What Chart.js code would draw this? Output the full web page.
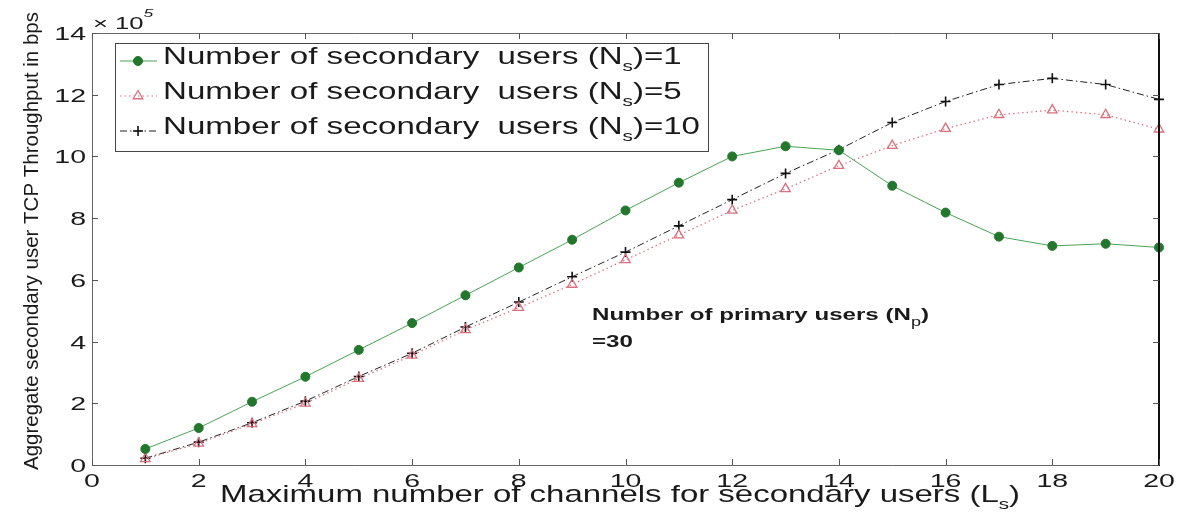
<!DOCTYPE html>
<html>
<head>
<meta charset="utf-8">
<script src="https://cdn.jsdelivr.net/npm/chart.js@4.4.1/dist/chart.umd.min.js"></script>
<style>
  html, body { margin: 0; padding: 0; background: #fff; }
  #wrap { width: 1182px; height: 514px; }
</style>
</head>
<body>
<div id="wrap"><canvas id="tcpChart"></canvas></div>
<script>
// values in units of 1e5 bps
var channels = [1, 2, 3, 4, 5, 6, 7, 8, 9, 10, 11, 12, 13, 14, 15, 16, 17, 18, 19, 20];
var ns1 = [0.52, 1.2, 2.05, 2.86, 3.73, 4.6, 5.5, 6.4, 7.3, 8.25, 9.15, 10.0, 10.33, 10.2, 9.05, 8.18, 7.4, 7.1, 7.17, 7.05];
var ns5 = [0.2, 0.7, 1.33, 2.0, 2.8, 3.55, 4.38, 5.1, 5.85, 6.65, 7.45, 8.25, 8.95, 9.7, 10.35, 10.9, 11.35, 11.5, 11.35, 10.88];
var ns10 = [0.22, 0.74, 1.37, 2.07, 2.87, 3.62, 4.47, 5.28, 6.1, 6.9, 7.75, 8.6, 9.45, 10.22, 11.1, 11.78, 12.33, 12.53, 12.33, 11.85];
var xTicks = [0, 2, 4, 6, 8, 10, 12, 14, 16, 18, 20];
var yTicks = [0, 2, 4, 6, 8, 10, 12, 14];
var seriesNames = ['1', '5', '10'];

var TXT = '#1a1a1a';
var GREEN_LINE = '#4aa354';
var GREEN_MARK = '#22772c';
var PINK = '#d9707e';

function pts(ys) {
    return channels.map(function(c, i) { return { x: c, y: ys[i] }; });
}

// draws a run of text pieces (with sub/superscripts), stretched horizontally by sx
function drawRich(ctx, parts, x, y, sx, align) {
    ctx.save();
    var total = 0;
    parts.forEach(function(p) { ctx.font = p.font; total += ctx.measureText(p.t).width; });
    ctx.translate(x, y);
    ctx.scale(sx, 1);
    var cx = align === 'right' ? -total : (align === 'center' ? -total / 2 : 0);
    ctx.textBaseline = 'alphabetic';
    ctx.textAlign = 'left';
    parts.forEach(function(p) {
        ctx.font = p.font;
        ctx.fillText(p.t, cx, p.dy || 0);
        cx += ctx.measureText(p.t).width;
    });
    ctx.restore();
    return total * sx;
}

function richWidth(ctx, parts) {
    var w = 0;
    ctx.save();
    parts.forEach(function(p) { ctx.font = p.font; w += ctx.measureText(p.t).width; });
    ctx.restore();
    return w;
}

var matlabFrame = {
    id: 'matlabFrame',
    afterDraw: function(chart) {
        var ctx = chart.ctx;
        var a = chart.chartArea;
        var xs = chart.scales.x, ys = chart.scales.y;

        // frame
        ctx.save();
        ctx.strokeStyle = '#666';
        ctx.lineWidth = 1;
        ctx.beginPath();
        ctx.moveTo(a.left + 0.5, a.top + 0.5);
        ctx.lineTo(a.right, a.top + 0.5);
        ctx.moveTo(a.left + 0.5, a.top);
        ctx.lineTo(a.left + 0.5, a.bottom + 0.5);
        ctx.lineTo(a.right, a.bottom + 0.5);
        ctx.stroke();
        ctx.strokeStyle = '#111';
        ctx.lineWidth = 2;
        ctx.beginPath();
        ctx.moveTo(a.right, a.top);
        ctx.lineTo(a.right, a.bottom + 1);
        ctx.stroke();

        // inward ticks
        ctx.strokeStyle = '#555';
        ctx.lineWidth = 1;
        ctx.beginPath();
        xTicks.forEach(function(v) {
            var px = Math.round(xs.getPixelForValue(v)) + 0.5;
            ctx.moveTo(px, a.bottom); ctx.lineTo(px, a.bottom - 6);
            ctx.moveTo(px, a.top); ctx.lineTo(px, a.top + 6);
        });
        yTicks.forEach(function(v) {
            var py = Math.round(ys.getPixelForValue(v)) + 0.5;
            ctx.moveTo(a.left, py); ctx.lineTo(a.left + 6, py);
            ctx.moveTo(a.right, py); ctx.lineTo(a.right - 6, py);
        });
        ctx.stroke();

        // tick labels
        ctx.fillStyle = TXT;
        xTicks.forEach(function(v) {
            drawRich(ctx, [{ t: String(v), font: '19px Arial' }], xs.getPixelForValue(v), 487, 1.5, 'center');
        });
        yTicks.forEach(function(v) {
            drawRich(ctx, [{ t: String(v), font: '19px Arial' }], a.left - 6, ys.getPixelForValue(v) + 7, 1.5, 'right');
        });

        // exponent
        drawRich(ctx, [
            { t: '\u00d7 10', font: '16px Arial' },
            { t: '5', font: 'italic 11px Arial', dy: -12 }
        ], a.left + 1, 29, 1.6, 'left');

        // axis titles
        var xt = [
            { t: 'Maximum number of channels for secondary users (L', font: '24px Arial' },
            { t: 's', font: '15px Arial', dy: 7 },
            { t: ')', font: '24px Arial' }
        ];
        drawRich(ctx, xt, 220, 502, 800 / richWidth(ctx, xt), 'left');

        ctx.save();
        ctx.translate(38, 241);
        ctx.rotate(-Math.PI / 2);
        var yt = [{ t: 'Aggregate secondary user TCP Throughput in bps', font: '21px Arial' }];
        drawRich(ctx, yt, 0, 0, 458 / richWidth(ctx, yt), 'center');
        ctx.restore();

        // annotation
        var an = [
            { t: 'Number of primary users (N', font: 'bold 16px Arial' },
            { t: 'p', font: '12px Arial', dy: 6 },
            { t: ')', font: 'bold 16px Arial' }
        ];
        var asx = 337 / richWidth(ctx, an);
        drawRich(ctx, an, 592, 320, asx, 'left');
        drawRich(ctx, [{ t: '=30', font: 'bold 16px Arial' }], 592, 347, asx, 'left');

        // legend box
        var bx = 115, by = 43, bw = 593, bh = 108;
        ctx.fillStyle = '#fff';
        ctx.fillRect(bx, by, bw, bh);
        ctx.strokeStyle = '#444';
        ctx.lineWidth = 1;
        ctx.strokeRect(bx + 0.5, by + 0.5, bw, bh);

        var rows = [61, 96, 131];
        var dsets = chart.data.datasets;
        var legParts = seriesNames.map(function(n) {
            return [
                { t: 'Number of secondary  users (N', font: '24px Arial' },
                { t: 's', font: '15px Arial', dy: 7 },
                { t: ')=' + n, font: '24px Arial' }
            ];
        });
        var lsx = 537 / richWidth(ctx, legParts[2]);
        rows.forEach(function(ry, i) {
            var ds = dsets[i];
            ctx.save();
            ctx.strokeStyle = ds.borderColor;
            ctx.lineWidth = ds.borderWidth;
            ctx.setLineDash(ds.borderDash || []);
            ctx.beginPath();
            ctx.moveTo(120, ry); ctx.lineTo(157, ry);
            ctx.stroke();
            ctx.setLineDash([]);
            ctx.fillStyle = ds.pointBackgroundColor;
            ctx.strokeStyle = ds.pointBorderColor;
            ctx.lineWidth = ds.pointBorderWidth;
            Chart.helpers.drawPoint(ctx, { pointStyle: ds.pointStyle, radius: ds.pointRadius, borderWidth: ds.pointBorderWidth, rotation: 0 }, 138, ry);
            ctx.restore();
            ctx.fillStyle = TXT;
            drawRich(ctx, legParts[i], 163, ry + 3, lsx, 'left');
        });
        ctx.restore();
    }
};

var ctx = document.getElementById('tcpChart').getContext('2d');
var chart = new Chart(ctx, {
    type: 'line',
    data: {
        datasets: [{
            label: 'Ns=1',
            data: pts(ns1),
            borderColor: GREEN_LINE,
            borderWidth: 1,
            pointStyle: 'circle',
            pointRadius: 4.5,
            pointBackgroundColor: GREEN_MARK,
            pointBorderColor: GREEN_MARK,
            pointBorderWidth: 1,
            clip: false
        }, {
            label: 'Ns=5',
            data: pts(ns5),
            borderColor: PINK,
            borderWidth: 1.2,
            borderDash: [1.5, 3],
            pointStyle: 'triangle',
            pointRadius: 5.5,
            pointBackgroundColor: 'rgba(255,255,255,0)',
            pointBorderColor: PINK,
            pointBorderWidth: 1.3,
            clip: false
        }, {
            label: 'Ns=10',
            data: pts(ns10),
            borderColor: '#222',
            borderWidth: 1,
            borderDash: [7, 3, 1.5, 3],
            pointStyle: 'cross',
            pointRadius: 5,
            pointBackgroundColor: '#111',
            pointBorderColor: '#111',
            pointBorderWidth: 1.6,
            clip: false
        }]
    },
    options: {
        responsive: true,
        maintainAspectRatio: false,
        animation: false,
        layout: { padding: { left: 0, top: 33, right: 23, bottom: 0 } },
        plugins: { legend: { display: false }, tooltip: { enabled: false } },
        scales: {
            x: {
                type: 'linear', min: 0, max: 20,
                grid: { display: false }, border: { display: false },
                ticks: { display: false },
                afterFit: function(s) { s.height = 49; }
            },
            y: {
                min: 0, max: 14,
                grid: { display: false }, border: { display: false },
                ticks: { display: false },
                afterFit: function(s) { s.width = 92; }
            }
        }
    },
    plugins: [matlabFrame]
});
</script>
</body>
</html>
